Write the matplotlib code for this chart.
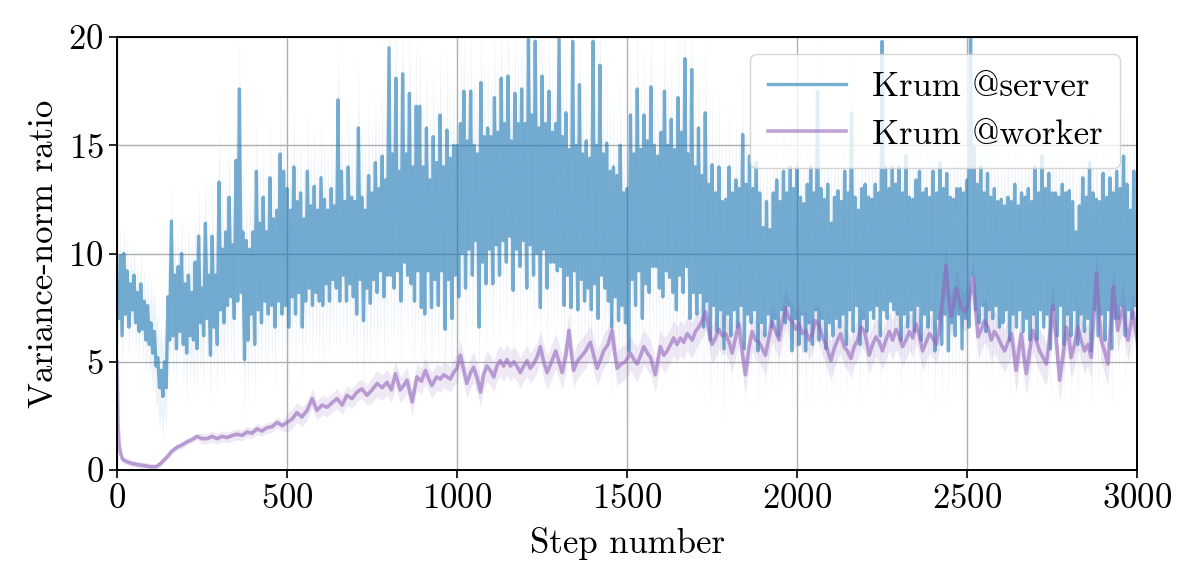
import numpy as np
import matplotlib
matplotlib.use("Agg")
import matplotlib.pyplot as plt

# ---------------- data ----------------
server_step_spacing = 5
server_values = [
    # 0-95
    8.4, 7.0, 9.9, 6.2, 10.0, 7.2, 9.2, 6.6, 8.6, 7.4, 9.0, 6.8, 8.2, 6.4, 8.6, 6.5, 7.8, 6.0, 7.6, 5.8,
    # 100-195
    6.8, 5.4, 6.4, 4.8, 5.2, 3.8, 4.6, 3.4, 5.0, 3.8, 8.0, 6.0, 11.5, 6.2, 9.0, 5.6, 9.4, 6.4, 10.0, 5.8,
    # 200-295
    8.6, 5.4, 9.0, 6.2, 8.2, 6.0, 9.6, 5.6, 10.8, 6.8, 8.4, 6.2, 11.4, 7.0, 9.0, 5.3, 10.8, 6.6, 9.0, 5.8,
    # 300-395
    13.3, 7.4, 10.2, 6.8, 11.0, 7.6, 12.6, 8.0, 10.4, 7.0, 14.3, 7.8, 17.6, 8.2, 11.0, 5.1, 10.6, 6.0, 10.2, 7.2,
    # 400-495
    11.0, 5.8, 13.8, 7.4, 11.4, 6.8, 12.6, 7.8, 11.0, 7.2, 13.5, 7.6, 11.6, 6.6, 12.0, 7.8, 14.6, 7.2, 13.8, 7.6,
    # 500-595
    13.0, 6.6, 12.0, 8.0, 14.0, 7.2, 12.4, 8.2, 12.8, 6.6, 11.6, 7.8, 13.8, 8.4, 12.2, 7.6, 13.1, 8.2, 12.0, 7.8,
    # 600-695
    13.5, 7.6, 12.5, 8.6, 12.0, 7.8, 13.0, 8.8, 12.2, 8.4, 17.1, 7.8, 13.8, 9.0, 12.4, 7.8, 14.0, 8.6, 12.6, 8.0,
    # 700-795
    12.4, 7.2, 15.8, 8.8, 12.6, 6.9, 12.0, 8.4, 13.6, 7.7, 12.8, 8.8, 14.2, 8.2, 13.0, 9.2, 14.5, 8.0, 13.4, 9.0,
    # 800-895
    19.5, 9.0, 14.6, 8.4, 18.1, 9.2, 13.8, 7.8, 18.3, 9.6, 14.6, 9.0, 17.4, 8.6, 14.0, 7.8, 16.8, 9.2, 16.8, 7.5,
    # 900-995
    14.0, 7.2, 15.8, 9.2, 13.4, 7.5, 15.4, 8.8, 14.2, 7.6, 16.4, 9.2, 14.0, 6.5, 15.7, 8.8, 14.4, 7.0, 15.0, 9.0,
    # 1000-1095
    15.0, 8.0, 16.0, 10.0, 17.5, 8.4, 15.2, 10.2, 17.5, 9.0, 15.0, 10.6, 14.6, 6.6, 17.9, 9.6, 15.4, 8.6, 15.8, 10.2,
    # 1100-1195
    15.4, 8.6, 17.2, 10.4, 15.6, 9.0, 18.1, 10.6, 16.0, 9.6, 18.2, 10.8, 15.2, 8.3, 17.4, 10.2, 16.0, 9.4, 17.6, 10.6,
    # 1200-1295
    16.0, 8.4, 19.9, 10.4, 16.4, 9.0, 19.8, 10.0, 15.8, 7.5, 18.2, 10.2, 16.0, 8.4, 17.5, 9.6, 15.6, 9.6, 16.0, 9.2,
    # 1300-1395
    20.0, 9.4, 15.4, 7.6, 16.5, 9.0, 14.8, 7.5, 19.8, 9.2, 15.0, 7.4, 17.8, 8.8, 14.6, 7.8, 15.2, 8.4, 14.4, 7.4,
    # 1400-1495
    19.8, 8.6, 15.0, 7.0, 18.7, 9.0, 14.6, 8.4, 15.1, 7.8, 13.8, 6.6, 14.0, 8.0, 13.6, 6.9, 15.0, 7.6, 12.8, 6.8,
    # 1500-1595
    13.0, 5.5, 16.4, 8.8, 14.6, 7.6, 17.6, 9.2, 14.8, 7.0, 16.4, 8.6, 15.2, 8.2, 17.7, 9.4, 15.0, 9.4, 14.5, 8.4,
    # 1600-1695
    15.6, 8.0, 17.5, 9.2, 15.0, 8.9, 16.2, 8.2, 14.8, 7.4, 17.2, 9.0, 15.6, 8.2, 19.0, 9.4, 14.6, 7.0, 18.5, 8.2,
    # 1700-1795
    14.0, 7.2, 15.8, 8.2, 13.6, 6.6, 16.5, 7.8, 13.2, 6.0, 14.1, 7.6, 12.8, 6.4, 14.0, 7.4, 12.4, 5.6, 12.5, 7.2,
    # 1800-1895
    14.0, 6.2, 12.8, 7.4, 13.4, 6.6, 13.0, 7.6, 15.5, 5.6, 13.2, 7.2, 14.5, 6.8, 13.0, 7.4, 14.2, 5.5, 12.8, 6.8,
    # 1900-1995
    11.2, 6.2, 12.4, 7.2, 11.1, 6.6, 12.8, 7.0, 13.4, 6.2, 12.4, 7.4, 13.8, 6.8, 12.8, 7.6, 14.0, 5.5, 13.0, 7.0,
    # 2000-2095
    14.0, 5.8, 12.6, 7.2, 12.3, 5.5, 13.2, 6.8, 14.0, 5.8, 12.8, 7.4, 17.5, 6.0, 13.0, 7.0, 12.5, 5.6, 13.2, 6.8,
    # 2100-2195
    11.4, 6.2, 12.6, 7.0, 12.9, 6.6, 12.4, 7.2, 13.8, 5.8, 12.8, 7.4, 16.5, 6.4, 12.6, 7.6, 12.0, 5.8, 13.0, 7.0,
    # 2200-2295
    13.2, 6.4, 12.6, 7.4, 12.5, 7.0, 13.2, 7.6, 12.8, 6.2, 19.8, 7.4, 14.0, 7.0, 13.0, 7.8, 14.0, 7.4, 13.2, 7.2,
    # 2300-2395
    14.0, 6.0, 12.8, 7.2, 14.5, 6.6, 12.6, 7.4, 12.5, 6.4, 13.4, 7.6, 13.8, 6.0, 12.8, 7.2, 13.0, 6.6, 12.6, 7.4,
    # 2400-2495
    13.8, 5.5, 12.8, 7.0, 14.2, 5.8, 13.0, 7.2, 13.7, 5.5, 12.6, 6.8, 12.5, 6.2, 13.0, 7.2, 13.0, 5.6, 12.8, 7.0,
    # 2500-2595
    13.4, 6.6, 20.5, 9.0, 14.9, 7.4, 13.2, 6.8, 14.0, 7.6, 12.8, 6.4, 13.7, 7.4, 12.6, 7.0, 13.0, 7.6, 12.4, 6.6,
    # 2600-2695
    12.5, 6.8, 12.2, 7.4, 12.6, 6.0, 12.4, 7.2, 13.2, 6.6, 12.2, 7.4, 12.8, 6.4, 12.6, 7.0, 13.0, 6.0, 12.4, 7.2,
    # 2700-2795
    14.0, 6.0, 12.8, 7.4, 14.5, 6.6, 13.0, 7.2, 13.7, 5.6, 12.8, 7.4, 12.8, 6.2, 12.6, 7.6, 13.2, 5.8, 12.8, 7.2,
    # 2800-2895
    12.9, 6.2, 12.4, 7.4, 11.0, 5.8, 12.2, 7.2, 13.5, 6.4, 12.6, 7.0, 14.2, 5.5, 12.8, 7.4, 12.5, 6.2, 12.4, 7.2,
    # 2900-2995
    13.7, 6.0, 12.6, 7.4, 13.5, 5.6, 12.8, 7.0, 13.8, 7.0, 13.0, 7.6, 14.5, 6.2, 13.2, 7.4, 12.0, 7.0, 13.8, 7.6,
]
# band half-width per 100-step block
server_block_std = [1.5, 2.0, 2.5, 3.0, 3.0, 3.0, 3.0, 3.5, 3.5, 3.5,
                    3.5, 3.5, 3.5, 3.5, 3.5, 3.5, 3.5, 3.5, 3.0, 3.0,
                    3.0, 3.0, 3.0, 3.0, 3.0, 3.0, 3.0, 3.0, 3.0, 3.0]

worker_steps = [
    0, 3, 6, 10, 15, 20, 30, 40, 60, 80, 100, 115, 127, 147, 160, 176, 190, 206, 220, 235,
    250, 265, 280, 294, 310, 324, 340, 353, 368, 382, 397, 412, 426, 441, 456, 471, 486, 500, 515, 529,
    544, 559, 574, 588, 603, 618, 632, 647, 662, 676, 691, 706, 720, 735, 750, 765, 780, 794, 807, 819,
    833, 843, 853, 868, 882, 895, 907, 917, 926, 940, 951, 961, 971, 980, 990, 1000, 1010, 1020, 1029, 1040,
    1049, 1060, 1069, 1078, 1088, 1098, 1108, 1117, 1127, 1137, 1147, 1157, 1167, 1176, 1186, 1196, 1206, 1215, 1225, 1235,
    1245, 1255, 1265, 1278, 1290, 1300, 1309, 1320, 1329, 1336, 1343, 1353, 1363, 1378, 1392, 1402, 1412, 1422, 1431, 1444,
    1456, 1463, 1471, 1483, 1495, 1510, 1520, 1530, 1540, 1549, 1560, 1569, 1583, 1598, 1608, 1618, 1628, 1637, 1647, 1657,
    1667, 1677, 1692, 1701, 1711, 1721, 1731, 1740, 1750, 1760, 1770, 1780, 1790, 1800, 1809, 1819, 1829, 1838, 1848, 1858,
    1868, 1878, 1888, 1898, 1907, 1917, 1927, 1937, 1947, 1956, 1966, 1976, 1986, 1996, 2006, 2015, 2025, 2035, 2045, 2054,
    2064, 2074, 2084, 2092, 2099, 2109, 2119, 2128, 2138, 2148, 2158, 2168, 2178, 2188, 2198, 2205, 2212, 2222, 2232, 2242,
    2251, 2261, 2271, 2281, 2291, 2300, 2310, 2320, 2330, 2340, 2350, 2360, 2369, 2379, 2389, 2399, 2409, 2417, 2424, 2431,
    2438, 2445, 2453, 2460, 2468, 2476, 2483, 2493, 2502, 2510, 2517, 2525, 2532, 2542, 2551, 2561, 2571, 2580, 2590, 2600,
    2610, 2620, 2630, 2637, 2644, 2651, 2659, 2666, 2674, 2683, 2693, 2703, 2713, 2723, 2733, 2742, 2752, 2762, 2772, 2782,
    2792, 2800, 2806, 2816, 2826, 2835, 2845, 2855, 2865, 2872, 2880, 2887, 2894, 2904, 2914, 2921, 2929, 2936, 2943, 2950,
    2958, 2965, 2973, 2980, 2988, 2995, 3000,
]
worker_values = [
    5.0, 2.2, 1.2, 0.8, 0.55, 0.45, 0.38, 0.32, 0.25, 0.2, 0.15, 0.15, 0.28, 0.6, 0.85, 1.05, 1.15, 1.3, 1.4, 1.55,
    1.45, 1.45, 1.55, 1.45, 1.55, 1.5, 1.6, 1.65, 1.6, 1.75, 1.7, 1.9, 1.8, 1.95, 2.0, 2.2, 2.05, 2.2, 2.35, 2.65,
    2.45, 2.75, 3.3, 2.75, 3.0, 2.9, 3.1, 3.3, 3.0, 3.45, 3.3, 3.6, 3.75, 3.45, 3.7, 4.0, 3.8, 4.05, 3.7, 4.45,
    3.7, 3.9, 4.15, 3.15, 4.3, 4.1, 4.6, 4.2, 3.9, 4.3, 4.2, 4.4, 4.3, 4.2, 4.5, 4.7, 5.3, 4.6, 4.0, 4.5,
    4.75, 4.2, 3.6, 4.4, 4.8, 4.6, 4.3, 4.8, 5.05, 4.8, 5.1, 4.8, 5.0, 4.8, 4.5, 4.8, 5.05, 4.7, 4.9, 5.2,
    5.7, 5.0, 4.5, 5.0, 5.5, 5.0, 4.5, 5.3, 6.45, 5.4, 4.6, 5.0, 5.2, 5.5, 5.9, 5.3, 4.7, 5.1, 5.5, 5.8,
    6.45, 5.5, 4.7, 4.9, 5.0, 5.4, 5.1, 4.9, 5.3, 5.7, 5.4, 5.2, 4.4, 5.7, 5.3, 5.5, 5.8, 6.1, 5.8, 6.1,
    5.9, 6.3, 6.0, 6.4, 6.6, 6.9, 7.3, 6.5, 5.8, 6.1, 6.5, 6.2, 6.3, 5.9, 5.4, 6.1, 6.75, 5.5, 4.4, 5.6,
    6.4, 6.0, 5.9, 5.6, 5.3, 6.1, 6.85, 6.4, 6.0, 6.8, 7.5, 7.0, 6.85, 6.5, 6.75, 6.3, 6.45, 6.0, 6.3, 6.9,
    6.7, 6.2, 5.8, 5.4, 5.05, 5.6, 6.0, 6.3, 5.7, 5.5, 5.15, 5.7, 6.0, 6.6, 6.4, 5.9, 5.3, 5.8, 6.15, 5.9,
    5.5, 6.0, 6.4, 6.0, 6.5, 6.2, 5.7, 6.0, 6.4, 6.1, 6.75, 6.2, 5.5, 5.9, 6.3, 6.1, 5.8, 6.4, 7.3, 8.4,
    9.45, 8.0, 7.1, 7.6, 8.4, 7.9, 7.5, 7.3, 7.6, 8.2, 8.9, 7.4, 6.15, 6.5, 6.9, 6.6, 6.0, 6.4, 6.15, 5.8,
    5.5, 5.9, 6.3, 5.5, 4.6, 5.4, 6.3, 5.4, 4.45, 5.4, 6.45, 6.0, 5.5, 5.2, 4.9, 6.0, 7.6, 6.0, 4.15, 5.3,
    6.6, 6.0, 5.2, 5.8, 6.6, 6.0, 5.5, 5.8, 5.2, 7.0, 9.1, 7.5, 6.0, 5.5, 4.9, 6.5, 8.45, 7.5, 6.45, 7.0,
    7.5, 6.8, 6.0, 6.6, 7.3, 6.5, 6.0,
]
# band half-width per 250-step block
worker_block_std = [0.15, 0.25, 0.45, 0.6, 0.7, 0.8, 0.8, 0.9, 0.9, 0.9, 1.0, 1.0]

labels = ["Krum @server", "Krum @worker"]
xticks = [0, 500, 1000, 1500, 2000, 2500, 3000]
yticks = [0, 5, 10, 15, 20]

# ---------------- style ----------------
plt.rcParams["font.family"] = ["cmr10", "DejaVu Serif"]
plt.rcParams["mathtext.fontset"] = "cm"
plt.rcParams["axes.formatter.use_mathtext"] = True

fig = plt.figure(figsize=(11.96, 5.83), dpi=100)
ax = fig.add_axes([0.0978, 0.1938, 0.853, 0.7427])

s_vals = np.array(server_values)
s_steps = np.arange(len(s_vals)) * server_step_spacing
s_std = np.repeat(server_block_std, 100 // server_step_spacing)[: len(s_vals)]

w_steps = np.array(worker_steps)
w_vals = np.array(worker_values)
w_std = np.array(worker_block_std)[np.minimum(w_steps // 250, len(worker_block_std) - 1)]

blue = "#1f77b4"
purple = "#9467bd"

ax.fill_between(s_steps, s_vals - s_std, s_vals + s_std, color=blue, alpha=0.08, lw=0)
ax.plot(s_steps, s_vals, color=blue, alpha=0.6, lw=2.4, label=labels[0])
ax.fill_between(w_steps, w_vals - w_std, w_vals + w_std, color=purple, alpha=0.15, lw=0)
ax.plot(w_steps, w_vals, color=purple, alpha=0.6, lw=2.6, label=labels[1])

ax.set_xlim(0, 3000)
ax.set_ylim(0, 20)
ax.set_xticks(xticks)
ax.set_yticks(yticks)
ax.grid(True, color="#b0b0b0", lw=1.0)
ax.set_axisbelow(True)
for sp in ax.spines.values():
    sp.set_linewidth(1.4)
ax.tick_params(labelsize=25, length=6, width=1.2, direction="out")
ax.set_xlabel("Step number", fontsize=25, labelpad=9)
ax.set_ylabel("Variance-norm ratio", fontsize=25, labelpad=6)

leg = ax.legend(loc="upper right", fontsize=25, handlelength=2.25, framealpha=0.8,
                borderpad=0.5, labelspacing=0.45, handletextpad=0.75,
                borderaxespad=0.5)

fig.savefig("out.png", dpi=100)
